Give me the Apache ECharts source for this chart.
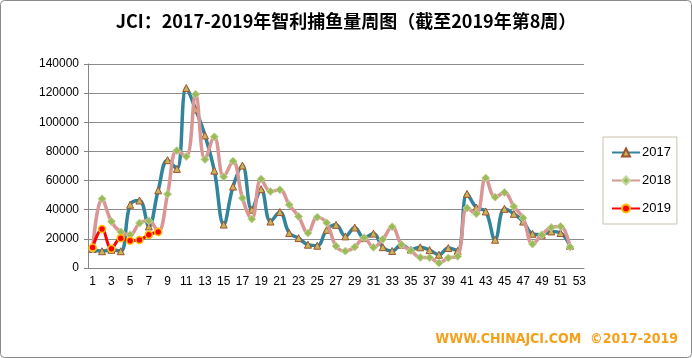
<!DOCTYPE html>
<html>
<head>
<meta charset="utf-8">
<script src="https://cdn.jsdelivr.net/npm/echarts@6/dist/echarts.min.js"></script>
<style>
html,body{margin:0;padding:0;background:#fff;}
#chart{width:692px;height:358px;}
</style>
</head>
<body>
<div id="chart"></div>
<script>
const titleText = 'JCI：2017-2019年智利捕鱼量周图（截至2019年第8周）';
const footerText = 'WWW.CHINAJCI.COM  ©2017-2019';
const weeks = ['1','2','3','4','5','6','7','8','9','10','11','12','13','14','15','16','17','18','19','20','21','22','23','24','25','26','27','28','29','30','31','32','33','34','35','36','37','38','39','40','41','42','43','44','45','46','47','48','49','50','51','52','53'];
const seriesNames = ['2017','2018','2019'];
const y2017 = [13000,11500,12500,11500,43400,46300,28500,53300,74000,68000,123500,108800,91000,66800,29800,55900,70300,40000,54100,31900,38400,24000,20500,16000,15300,26200,29600,21700,27800,20500,23600,14300,11700,16000,12600,14200,12300,9100,13700,11800,50900,41500,38800,19400,40600,37200,31900,23500,22800,25100,24000,15300,null];
const y2018 = [13000,47500,31900,24700,22800,30800,32400,25000,50700,80600,76500,119200,74500,90000,62600,73300,48000,33600,61000,52500,53700,43400,35400,24000,34900,31000,15000,11600,14400,20800,14200,19700,28300,16000,12000,7200,7100,3400,6900,8000,41100,37200,61700,48600,51800,42200,34300,16400,22800,27800,28500,14400,null];
const y2019 = [14100,26700,13200,20500,18700,19200,22800,24700];
const yMin = 0, yMax = 140000, yStep = 20000;

const chart = echarts.init(document.getElementById('chart'), null, {renderer:'canvas'});
const font = '"Liberation Sans", Arial, sans-serif';
chart.setOption({
  animation:false,
  backgroundColor:'#ffffff',
  title:{
    text:titleText, left:'center', top:7,
    textStyle:{fontFamily:'"Noto Sans CJK SC", sans-serif', fontSize:18, fontWeight:'bold', color:'#000'}
  },
  legend:{
    orient:'vertical', left:603, top:137, width:74, height:82,
    padding:[9,6,9,8], itemGap:15, itemWidth:28, itemHeight:10,
    borderColor:'#c9c2a8', borderWidth:1,
    textStyle:{fontFamily:font, fontSize:13, color:'#000', padding:[0,0,0,-3]},
    data:seriesNames
  },
  grid:{left:88, right:108, top:64, bottom:90, containLabel:false},
  xAxis:{
    type:'category', data:weeks, boundaryGap:true,
    axisLine:{lineStyle:{color:'#868686', width:1}},
    axisTick:{interval:0, length:4, lineStyle:{color:'#868686'}},
    axisLabel:{interval:1, fontFamily:font, fontSize:12, color:'#000', margin:8}
  },
  yAxis:{
    type:'value', min:yMin, max:yMax, interval:yStep,
    axisLine:{show:true, lineStyle:{color:'#868686'}},
    axisTick:{show:true, length:4, lineStyle:{color:'#868686'}},
    splitLine:{lineStyle:{color:'#8c8c8c', width:1}},
    axisLabel:{fontFamily:font, fontSize:12, color:'#000', margin:9, formatter:function(v){return String(v);}}
  },
  series:[
    {name:'2017', type:'line', data:y2017, smooth:0.4, connectNulls:false,
     lineStyle:{color:'#31849B', width:3.5},
     itemStyle:{color:'#C8B45A', borderColor:'#A0522D', borderWidth:1},
     symbol:'triangle', symbolSize:7, showAllSymbol:true, z:2},
    {name:'2018', type:'line', data:y2018, smooth:0.4,
     lineStyle:{color:'#D99694', width:3.5},
     itemStyle:{color:'#9BBB59', borderColor:'#C3D69B', borderWidth:1},
     symbol:'diamond', symbolSize:8, showAllSymbol:true, z:3},
    {name:'2019', type:'line', data:y2019, smooth:0.4,
     lineStyle:{color:'#FF0000', width:3},
     itemStyle:{color:'#FF0000', borderColor:'#FFC000', borderWidth:1.5},
     symbol:'circle', symbolSize:7, showAllSymbol:true, z:4}
  ],
  graphic:[
    {type:'rect', shape:{x:0.5, y:0.5, width:691, height:357, r:4}, style:{fill:'none', stroke:'#8a8a8a', lineWidth:1}, z:100},
    {type:'text', right:14, top:332, style:{text:footerText, fill:'#F5A01A', font:'bold 14px "Liberation Sans Narrow", "DejaVu Sans Condensed", sans-serif'}, z:100}
  ]
});
</script>
</body>
</html>
